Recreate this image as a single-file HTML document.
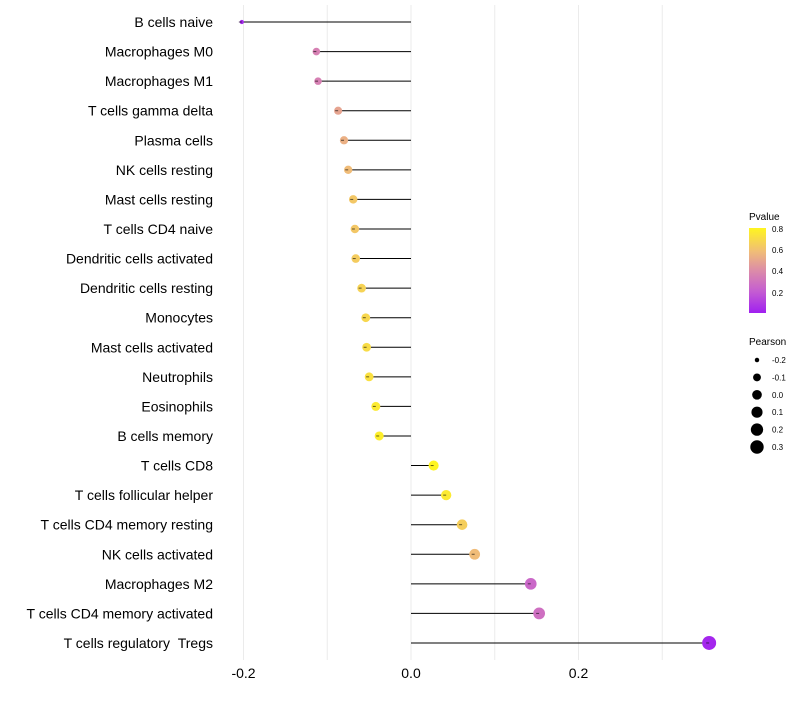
<!DOCTYPE html>
<html><head><meta charset="utf-8"><style>
body{margin:0;background:#fff;font-family:"Liberation Sans",sans-serif}
</style></head><body>
<svg id="c" width="800" height="700" xmlns="http://www.w3.org/2000/svg">
<defs><linearGradient id="pg" x1="0" y1="1" x2="0" y2="0">
<stop offset="0" stop-color="#a020f0"/><stop offset="0.25" stop-color="#c45cd2"/><stop offset="0.5" stop-color="#dc8ca8"/><stop offset="0.72" stop-color="#f0bc78"/><stop offset="1" stop-color="#fff520"/>
</linearGradient></defs>
<g id="grid"></g><g id="marks"></g><g id="labels"></g>
<g>
<text x="749" y="220" font-size="10">Pvalue</text>
<rect x="749" y="228" width="17" height="85" fill="url(#pg)"/>
<text x="772" y="232" font-size="8">0.8</text><text x="772" y="253" font-size="8">0.6</text>
<text x="772" y="274" font-size="8">0.4</text><text x="772" y="296" font-size="8">0.2</text>
</g>
<g id="sizeleg">
<text x="749" y="345" font-size="10">Pearson</text>
</g>
</svg>
<script>
const categories=["B cells naive","Macrophages M0","Macrophages M1","T cells gamma delta","Plasma cells","NK cells resting","Mast cells resting","T cells CD4 naive","Dendritic cells activated","Dendritic cells resting","Monocytes","Mast cells activated","Neutrophils","Eosinophils","B cells memory","T cells CD8","T cells follicular helper","T cells CD4 memory resting","NK cells activated","Macrophages M2","T cells CD4 memory activated","T cells regulatory \u00a0Tregs"];
const pearson=[-0.202,-0.113,-0.111,-0.087,-0.080,-0.075,-0.069,-0.067,-0.066,-0.059,-0.054,-0.053,-0.050,-0.042,-0.038,0.027,0.042,0.061,0.076,0.143,0.153,0.356];
const pvalue=[0.03,0.35,0.35,0.5,0.55,0.6,0.65,0.65,0.67,0.7,0.72,0.74,0.76,0.8,0.82,0.86,0.8,0.68,0.6,0.25,0.28,0.02];
const xticks=[-0.2,0,0.2];
const legendVals=[-0.2,-0.1,0.0,0.1,0.2,0.3];
const NS="http://www.w3.org/2000/svg";
const xs=v=>411+v*837.5;
const ys=i=>22+i*29.57;
const rs=v=>1.5+5.5*Math.sqrt(Math.max(0,(v+0.21)/0.57));
const stops=[[0,[160,32,240]],[0.2,[196,92,210]],[0.4,[220,140,168]],[0.6,[240,188,120]],[0.85,[255,245,32]]];
function col(p){if(p>=0.85)return"rgb(255,245,32)";for(let k=1;k<stops.length;k++){if(p<=stops[k][0]){const a=stops[k-1],b=stops[k],t=(p-a[0])/(b[0]-a[0]);return"rgb("+a[1].map((c,j)=>Math.round(c+(b[1][j]-c)*t)).join(",")+")";}}}
function mk(t,a,p){const e=document.createElementNS(NS,t);for(const k in a)e.setAttribute(k,a[k]);p.appendChild(e);return e;}
const grid=document.getElementById('grid'),marks=document.getElementById('marks'),labels=document.getElementById('labels');
[-0.1,0,0.1,0.2,0.3,-0.2].forEach(v=>{const l=mk('line',{x1:xs(v),x2:xs(v),y1:5,y2:660,stroke:'#ebebeb','stroke-width':1},grid);

});
xticks.forEach(v=>{const t=mk('text',{x:xs(v),y:678,'font-size':14,'text-anchor':'middle',fill:'#000'},labels);t.textContent=v===0?"0.0":v.toFixed(1);

});
categories.forEach((c,i)=>{const y=ys(i);
const t=mk('text',{x:213,y:y+5,'font-size':14,'text-anchor':'end',fill:'#000'},labels);t.textContent=c;


const l=mk('line',{x1:xs(0),x2:xs(pearson[i]),y1:y,y2:y,stroke:'#000','stroke-width':1},marks);


const d=mk('circle',{cx:xs(pearson[i]),cy:y,r:rs(pearson[i]),fill:col(pvalue[i])},marks);


const l2=mk('line',{x1:xs(pearson[i])-3,x2:xs(pearson[i]),y1:y,y2:y,stroke:'#000','stroke-width':1,'stroke-opacity':0.6},marks);

});
const sl=document.getElementById('sizeleg');
legendVals.forEach((v,i)=>{const y=360+i*17.4;
const c=mk('circle',{cx:757,cy:y,r:rs(v),fill:'#000'},sl);


const t=mk('text',{x:772,y:y+3,'font-size':8},sl);t.textContent=v.toFixed(1);

});
</script>
</body></html>
